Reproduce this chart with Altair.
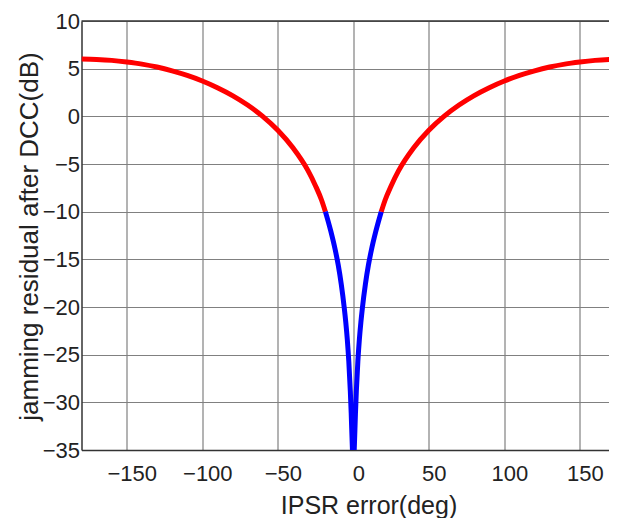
import altair as alt
import pandas as pd

# IPSR error (deg) and jamming residual (dB)
red_left_deg = [-180, -170, -160, -150, -140, -130, -120, -110, -100, -90, -80, -70,
                -60, -50, -40, -30, -25, -21, -18.5]
red_left_db = [6.02, 5.97, 5.87, 5.70, 5.48, 5.17, 4.77, 4.29, 3.71, 3.01, 2.18, 1.19,
               0.0, -1.46, -3.3, -5.7, -7.3, -8.8, -10.0]

blue_deg = [-18.5, -15, -12, -10, -8, -6, -5, -4, -3, -2, -1.4, -0.7, 0,
            0.7, 1.4, 2, 3, 4, 5, 6, 8, 10, 12, 15, 18.5]
blue_db = [-10.0, -12.0, -14.0, -15.6, -17.6, -20.1, -21.6, -23.4, -25.7, -28.8, -31.2, -34.5, -37.0,
           -34.5, -31.2, -28.8, -25.7, -23.4, -21.6, -20.1, -17.6, -15.6, -14.0, -12.0, -10.0]

red_right_deg = [18.5, 21, 25, 30, 40, 50, 60, 70, 80, 90, 100, 110, 120,
                 130, 140, 150, 160, 170, 180]
red_right_db = [-10.0, -8.8, -7.3, -5.7, -3.3, -1.46, 0.0, 1.19, 2.18, 3.01, 3.71, 4.29, 4.77,
                5.17, 5.48, 5.70, 5.87, 5.97, 6.02]

x_ticks = [-150, -100, -50, 0, 50, 100, 150]
y_ticks = [-35, -30, -25, -20, -15, -10, -5, 0, 5, 10]
x_domain = [-180, 169.3]
y_domain = [-35, 10]
top_border = [10]

rows = []
for name, xs, ys in [("L", red_left_deg, red_left_db),
                     ("C", blue_deg, blue_db),
                     ("R", red_right_deg, red_right_db)]:
    for xv, yv in zip(xs, ys):
        rows.append({"seg": name, "err": xv, "res": yv})
df = pd.DataFrame(rows)

FONT = "Liberation Sans"
INK = "#222222"

x_enc = alt.X(
    "err:Q",
    scale=alt.Scale(domain=x_domain, nice=False, zero=False),
    axis=alt.Axis(
        values=x_ticks, format="d", title="IPSR error(deg)",
        grid=True, gridColor="#808080", gridWidth=1.2,
        ticks=False, tickSize=0,
        domainColor="#333333", domainWidth=1.5,
        labelFont=FONT, labelFontSize=22, labelColor=INK,
        labelPadding=30, labelBaseline="alphabetic", labelOffset=5,
        labelFlush=False, labelOverlap=False,
        titleFont=FONT, titleFontSize=25, titleFontWeight="normal", titleColor=INK,
        titleX=287, titleY=63, titleAlign="center", titleBaseline="alphabetic",
    ),
)
y_enc = alt.Y(
    "res:Q",
    scale=alt.Scale(domain=y_domain, nice=False, zero=False),
    axis=alt.Axis(
        values=y_ticks, format="d", title="jamming residual after DCC(dB)",
        grid=True, gridColor="#808080", gridWidth=1.2,
        ticks=False, tickSize=0,
        domainColor="#333333", domainWidth=1.5,
        labelFont=FONT, labelFontSize=22, labelColor=INK,
        labelPadding=2, labelFlush=False, labelOverlap=False,
        titleFont=FONT, titleFontSize=26, titleFontWeight="normal", titleColor=INK,
        titleAngle=270, titleX=-44, titleY=215, titleAlign="center", titleBaseline="alphabetic",
    ),
)

lines = alt.Chart(df).mark_line(strokeWidth=5, interpolate="monotone", clip=True).encode(
    x=x_enc,
    y=y_enc,
    color=alt.Color("seg:N", scale=alt.Scale(domain=["L", "C", "R"],
                                             range=["#ff0000", "#0000ff", "#ff0000"]),
                    legend=None),
    detail="seg:N",
    order="err:Q",
)

top = alt.Chart(pd.DataFrame({"y": top_border})).mark_rule(
    color="#333333", strokeWidth=1.5
).encode(y=alt.Y("y:Q"))

chart = alt.layer(lines, top).properties(
    width=527.5,
    height=429,
    autosize=alt.AutoSizeParams(type="none"),
    padding={"left": 73.5, "top": 13, "right": 0, "bottom": 68},
    background="white",
).configure_view(strokeWidth=0, strokeOpacity=0)

chart.save("out.html", embed_options={"renderer": "svg", "actions": False})
